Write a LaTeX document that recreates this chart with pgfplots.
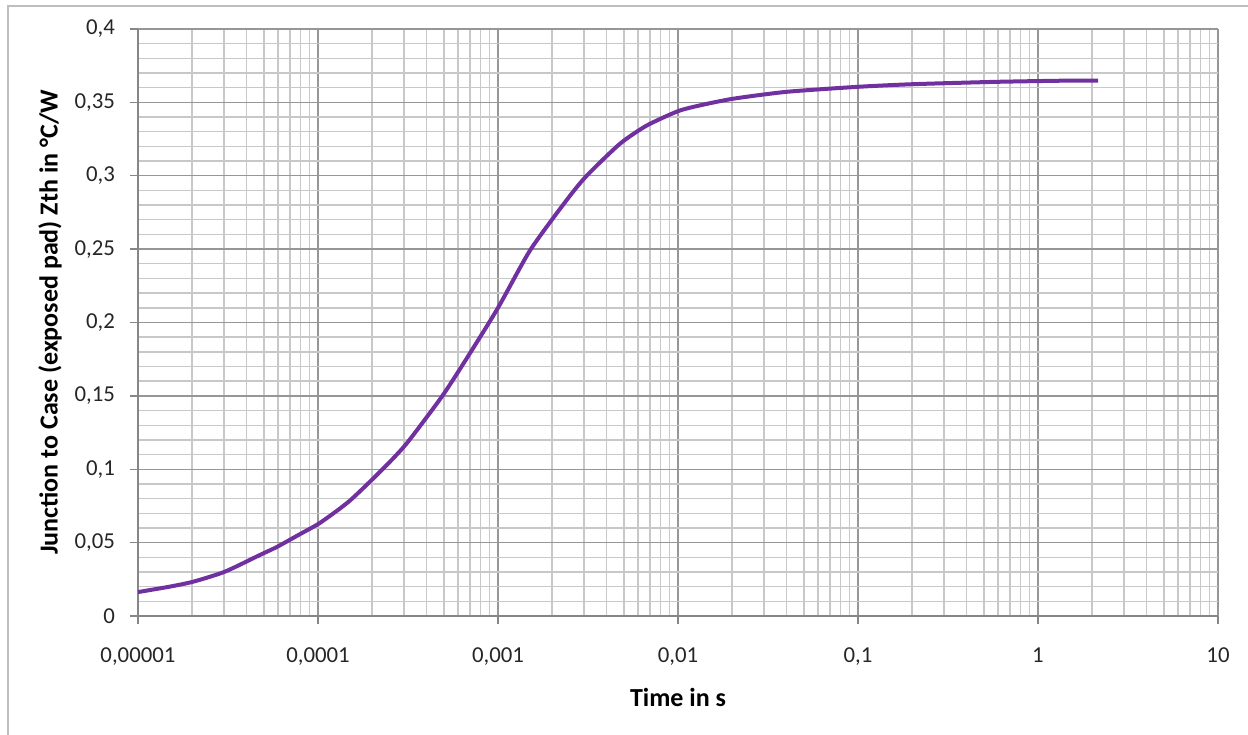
\documentclass[border=0pt]{standalone}
\usepackage{fontspec}
\setmainfont{Carlito}
\usepackage{pgfplots}
\pgfplotsset{compat=1.18}
\definecolor{curve}{RGB}{112,48,160}
\definecolor{majgrid}{RGB}{150,150,150}
\definecolor{mingrid}{RGB}{200,200,200}
\definecolor{axisgray}{RGB}{134,134,134}
\definecolor{frame}{RGB}{190,190,190}
\begin{document}
\begin{tikzpicture}
\useasboundingbox (-69pt,-59pt) rectangle (555pt,308pt);
\draw[frame, line width=0.7pt] (-65pt,-60pt) -- (-65pt,305pt) -- (556pt,305pt);
\begin{axis}[
  at={(0,0)}, anchor=south west,
  scale only axis, width=540pt, height=293.5pt,
  xmode=log, log basis x=10,
  xmin=1e-5, xmax=10, ymin=0, ymax=0.4,
  axis x line*=bottom, axis y line*=left,
  axis line style={axisgray, line width=0.8pt},
  xtick={1e-5,1e-4,1e-3,1e-2,1e-1,1,10},
  xticklabels={{0,00001},{0,0001},{0,001},{0,01},{0,1},1,10},
  minor xtick={2e-5,3e-5,4e-5,5e-5,6e-5,7e-5,8e-5,9e-5,
    2e-4,3e-4,4e-4,5e-4,6e-4,7e-4,8e-4,9e-4,
    2e-3,3e-3,4e-3,5e-3,6e-3,7e-3,8e-3,9e-3,
    2e-2,3e-2,4e-2,5e-2,6e-2,7e-2,8e-2,9e-2,
    0.2,0.3,0.4,0.5,0.6,0.7,0.8,0.9,
    2,3,4,5,6,7,8,9},
  ytick={0,0.05,0.1,0.15,0.2,0.25,0.3,0.35,0.4},
  yticklabels={0,{0,05},{0,1},{0,15},{0,2},{0,25},{0,3},{0,35},{0,4}},
  minor ytick={0.01,0.02,0.03,0.04,0.06,0.07,0.08,0.09,0.11,0.12,0.13,0.14,
    0.16,0.17,0.18,0.19,0.21,0.22,0.23,0.24,0.26,0.27,0.28,0.29,
    0.31,0.32,0.33,0.34,0.36,0.37,0.38,0.39},
  grid=both,
  major grid style={majgrid, line width=0.7pt},
  minor grid style={mingrid, line width=0.7pt},
  tick align=outside,
  major tick length=4pt,
  minor tick length=0pt,
  tick style={axisgray, line width=0.7pt},
  tick label style={font=\fontsize{11.4}{13}\selectfont, text=black!85},
  xticklabel style={yshift=-8.5pt},
  yticklabel style={xshift=-4pt},
  xlabel={\textbf{Time in s}},
  ylabel={\textbf{Junction to Case (exposed pad) Zth in °C/W}},
  label style={font=\fontsize{13}{15}\selectfont},
  xlabel style={at={(axis description cs:0.5,-0.138)}, anchor=center},
  ylabel style={at={(axis description cs:-0.0815,0.5)}, anchor=center, rotate=0},
  clip=true,
]
\addplot[curve, line width=2pt, smooth, tension=0.4] coordinates {
(1e-5,0.0163)
(1.5e-5,0.0200)
(2.03e-5,0.0234)
(3.04e-5,0.0302)
(4.76e-5,0.0416)
(5.9e-5,0.0470)
(8e-5,0.0560)
(1.03e-4,0.0636)
(1.5e-4,0.0785)
(2.31e-4,0.1006)
(3.11e-4,0.1176)
(4.87e-4,0.1494)
(6.70e-4,0.1755)
(1.0e-3,0.2100)
(1.51e-3,0.2493)
(2.41e-3,0.2835)
(3.11e-3,0.3000)
(4.76e-3,0.3218)
(6.7e-3,0.3342)
(1.0e-2,0.3440)
(1.33e-2,0.3480)
(2.03e-2,0.3525)
(4.02e-2,0.3572)
(0.1,0.3606)
(0.203,0.3624)
(0.59,0.3640)
(1.44,0.3648)
(2.16,0.3648)
};
\end{axis}
\end{tikzpicture}
\end{document}
